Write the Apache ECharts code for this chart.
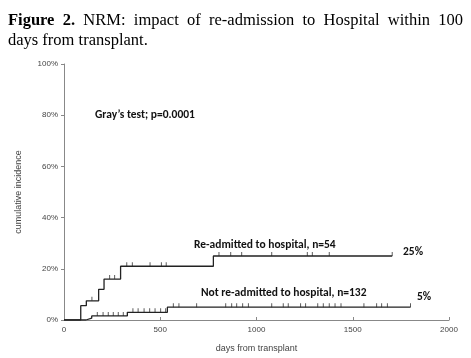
<!DOCTYPE html>
<html><head><meta charset="utf-8">
<script src="https://cdn.jsdelivr.net/npm/echarts@6/dist/echarts.min.js"></script>
<style>html,body{margin:0;padding:0;background:#fff}#c{width:471px;height:358px}</style>
</head><body><div id="c"></div>
<script>
// Step curves: [day, cumulative incidence %]
const readmittedSteps = [[0,0],[87,5.6],[116,7.5],[180,12],[208,16],[294,21],[776,25],[1705,25]];
const notReadmittedSteps = [[0,0],[114,0.7],[144,1.6],[329,3],[537,5],[1800,5]];
// Censoring marks (days)
const readmittedCensor = [145,237,263,326,355,447,506,531,805,866,923,1079,1264,1290,1378,1705];
const notReadmittedCensor = [173,203,230,256,282,308,358,385,416,445,473,502,528,568,597,689,840,871,897,928,958,1079,1139,1165,1229,1255,1318,1347,1378,1408,1439,1558,1624,1650,1680,1800];
const xTicks = [0,500,1000,1500,2000];
const yTicks = [0,20,40,60,80,100];

function levelAt(steps, d){ let v=0; for(const s of steps){ if(s[0]<=d) v=s[1]; } return v; }
const readCens = readmittedCensor.map(d=>[d, levelAt(readmittedSteps,d)]);
const notCens = notReadmittedCensor.map(d=>[d, levelAt(notReadmittedSteps,d)]);

const chart = echarts.init(document.getElementById('c'));
const serif = '"Liberation Serif","Times New Roman",serif';
const lab = 'Carlito,"Liberation Sans",Arial,sans-serif';
const sans = 'Arial,"Liberation Sans",sans-serif';
const tSize = 16.5;
const titleWords = [['Figure',true],['2.',true],['NRM:',false],['impact',false],['of',false],['re-admission',false],['to',false],['Hospital',false],['within',false],['100',false]];
// justify first title line between x=8 and x=463
const cv = document.createElement('canvas').getContext('2d');
const widths = titleWords.map(w=>{cv.font=(w[1]?'bold ':'')+tSize+'px '+serif; return cv.measureText(w[0]).width;});
const total = widths.reduce((a,b)=>a+b,0);
const gap = (463-8-total)/(titleWords.length-1);
let xx = 8;
const graphics = [];
titleWords.forEach((w,i)=>{graphics.push({type:'text',left:xx,top:12,style:{text:w[0],font:(w[1]?'bold ':'')+tSize+'px '+serif,fill:'#000'}}); xx += widths[i]+gap;});
graphics.push({type:'text',left:8,top:32,style:{text:'days from transplant.',font:tSize+'px '+serif,fill:'#000'}});
const ann = [['Gray\u2019s test; p=0.0001',95,115],['Re-admitted to hospital, n=54',194,245],['25%',403,252],['Not re-admitted to hospital, n=132',201,293],['5%',417,297]];
ann.forEach(a=>graphics.push({type:'text',x:a[1],y:a[2],style:{text:a[0],font:'bold 11.5px '+lab,fill:'#111',textVerticalAlign:'middle'}}));

chart.setOption({
  animation:false,
  backgroundColor:'#fff',
  grid:{left:64,right:22,top:64,bottom:38},
  graphic:graphics,
  xAxis:{type:'value',min:0,max:2000,interval:500,
    name:'days from transplant',nameLocation:'middle',nameGap:24,
    nameTextStyle:{fontSize:9,color:'#444',fontFamily:sans},
    axisLine:{lineStyle:{color:'#888',width:1}},
    axisTick:{inside:true,length:3,lineStyle:{color:'#888'}},
    axisLabel:{fontSize:8,color:'#444',margin:6,fontFamily:sans,formatter:v=>String(v)},
    splitLine:{show:false}},
  yAxis:{type:'value',min:0,max:100,interval:20,
    name:'cumulative incidence',nameLocation:'middle',nameGap:41,
    nameTextStyle:{fontSize:9,color:'#444',fontFamily:sans},
    axisLine:{show:true,lineStyle:{color:'#888',width:1}},
    axisTick:{show:true,length:3,lineStyle:{color:'#888'}},
    axisLabel:{fontSize:8,color:'#444',margin:6,formatter:'{value}%',fontFamily:sans},
    splitLine:{show:false}},
  series:[
    {type:'line',step:'end',data:readmittedSteps,showSymbol:false,lineStyle:{color:'#222',width:1.3}},
    {type:'line',step:'end',data:notReadmittedSteps,showSymbol:false,lineStyle:{color:'#222',width:1.3}},
    {type:'scatter',data:readCens,symbol:'rect',symbolSize:[1,4],symbolOffset:[0,-2],itemStyle:{color:'#333'}},
    {type:'scatter',data:notCens,symbol:'rect',symbolSize:[1,4],symbolOffset:[0,-2],itemStyle:{color:'#333'}}
  ]
});
</script></body></html>
